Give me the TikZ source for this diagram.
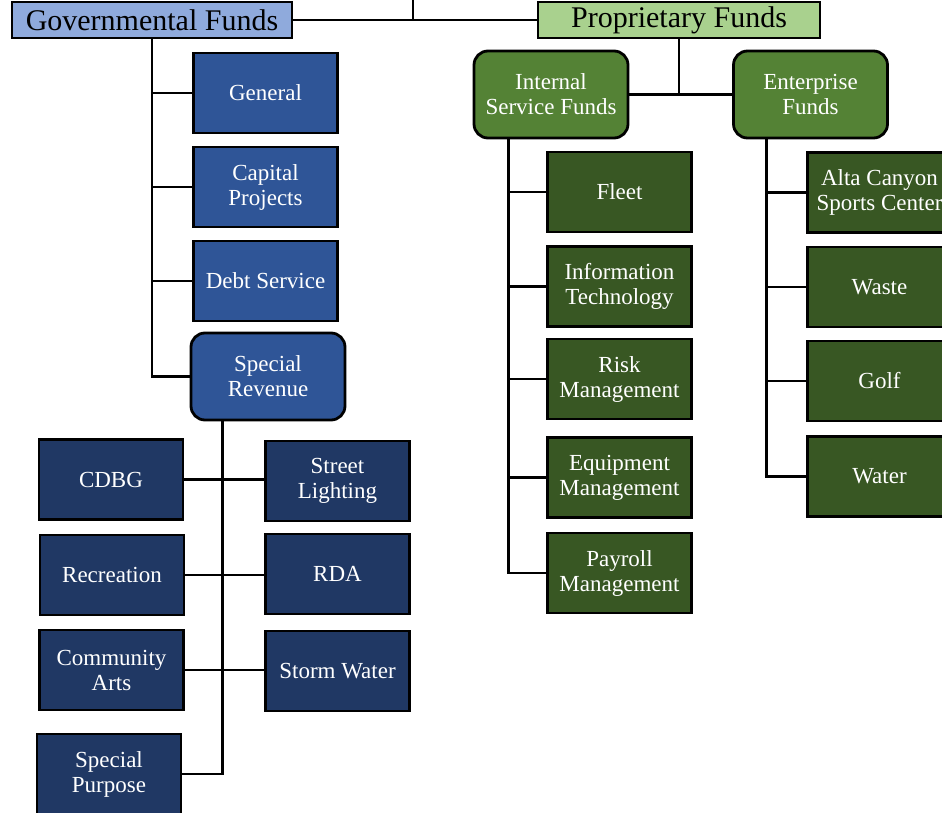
\documentclass[tikz,border=0pt]{standalone}
\usepackage{fontspec}
\setmainfont{Liberation Serif}
\usetikzlibrary{positioning,calc}

\definecolor{govlight}{HTML}{8FAADC}
\definecolor{proplight}{HTML}{A9D18E}
\definecolor{govmid}{HTML}{2F5597}
\definecolor{govdark}{HTML}{203864}
\definecolor{propmid}{HTML}{548235}
\definecolor{propdark}{HTML}{385723}

\tikzset{
  fundbox/.style={draw=black,line width=1.4pt,align=center,text=white,
    minimum width=72pt,minimum height=40pt,inner sep=1pt,
    font=\fontsize{11.5}{12.5}\selectfont},
  headbox/.style={draw=black,line width=1.4pt,minimum height=18pt,
    font=\fontsize{15}{17}\selectfont,inner sep=1pt},
  groupbox/.style={fundbox,rounded corners=7pt,minimum width=77pt,minimum height=43.5pt},
  link/.style={line width=1.2pt}
}

\begin{document}
\begin{tikzpicture}[x=0.5pt,y=-0.5pt]
  \useasboundingbox (0,0) rectangle (942,813);
  \node[headbox,fill=govlight,minimum width=140pt] (gov) at (152,20) {Governmental Funds};
  \node[headbox,fill=proplight,minimum width=141pt] (prop) at (679,20) {Proprietary Funds};

  \node[fundbox,fill=govmid] (general) at (265.5,93) {General};
  \node[fundbox,fill=govmid] (capital) at (265.5,187) {Capital\\Projects};
  \node[fundbox,fill=govmid] (debt) at (265.5,281) {Debt Service};
  \node[groupbox,fill=govmid] (specrev) at (268,376.5) {Special\\Revenue};

  \node[fundbox,fill=govdark] (cdbg) at (111,479.5) {CDBG};
  \node[fundbox,fill=govdark] (street) at (337.5,481) {Street\\Lighting};
  \node[fundbox,fill=govdark] (recreation) at (112,575) {Recreation};
  \node[fundbox,fill=govdark] (rda) at (337.5,574) {RDA};
  \node[fundbox,fill=govdark] (arts) at (111.5,670) {Community\\Arts};
  \node[fundbox,fill=govdark] (storm) at (337.5,671) {Storm Water};
  \node[fundbox,fill=govdark] (specpurp) at (109,774) {Special\\Purpose};

  \node[groupbox,fill=propmid] (internal) at (551,94.5) {Internal\\Service Funds};
  \node[groupbox,fill=propmid] (enterprise) at (810.5,94.5) {Enterprise\\Funds};

  \node[fundbox,fill=propdark] (fleet) at (619.5,192) {Fleet};
  \node[fundbox,fill=propdark] (infotech) at (619.5,286.5) {Information\\Technology};
  \node[fundbox,fill=propdark] (risk) at (619.5,379) {Risk\\Management};
  \node[fundbox,fill=propdark] (equip) at (619.5,477.5) {Equipment\\Management};
  \node[fundbox,fill=propdark] (payroll) at (619.5,573) {Payroll\\Management};

  \node[fundbox,fill=propdark] (alta) at (879.5,192.5) {Alta Canyon\\Sports Center};
  \node[fundbox,fill=propdark] (waste) at (879.5,287) {Waste};
  \node[fundbox,fill=propdark] (golf) at (879.5,381) {Golf};
  \node[fundbox,fill=propdark] (water) at (879.5,476.5) {Water};

  \coordinate (top) at (413,-5);
  \coordinate (srtrunk) at ($(specrev.south west)!0.21!(specrev.south east)$);
  \coordinate (isftrunk) at ($(internal.south west)!0.23!(internal.south east)$);
  \coordinate (enttrunk) at ($(enterprise.south west)!0.22!(enterprise.south east)$);

  \draw[link] (gov.east) -- (prop.west);
  \draw[link] (top) -- (top |- gov.east);
  \draw[link] (prop.south) -- (prop.south |- internal.east);
  \draw[link] (internal.east) -- (enterprise.west);

  \draw[link] (gov.south) |- (specrev.west);
  \foreach \n in {general,capital,debt}
    \draw[link] (gov.south |- \n.west) -- (\n.west);

  \draw[link] (srtrunk) |- (specpurp.east);
  \draw[link] (cdbg.east) -- (cdbg.east -| street.west);
  \draw[link] (recreation.east) -- (recreation.east -| rda.west);
  \draw[link] (arts.east) -- (arts.east -| storm.west);

  \draw[link] (isftrunk) |- (payroll.west);
  \foreach \n in {fleet,infotech,risk,equip}
    \draw[link] (isftrunk |- \n.west) -- (\n.west);

  \draw[link] (enttrunk) |- (water.west);
  \foreach \n in {alta,waste,golf}
    \draw[link] (enttrunk |- \n.west) -- (\n.west);
\end{tikzpicture}
\end{document}
